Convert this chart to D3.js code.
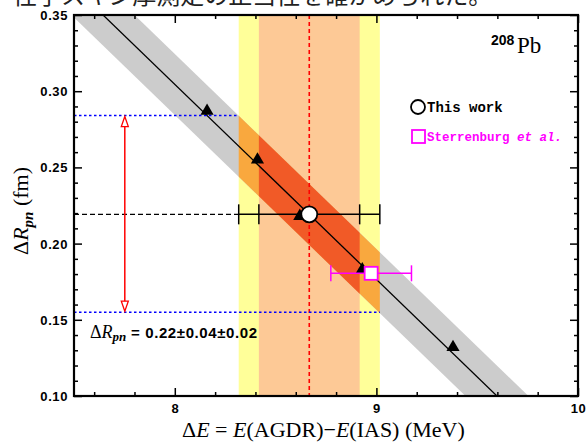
<!DOCTYPE html>
<html><head><meta charset="utf-8">
<script src="https://cdn.jsdelivr.net/npm/d3@7"></script>
<style>
body{margin:0;background:#fff;}
svg{display:block;}
</style></head>
<body>
<svg id="chart" width="587" height="445"></svg>
<script>
// ---------- data ----------
const xDomain = [7.5, 10];
const yDomain = [0.10, 0.35];
const xMajorTicks = [8, 9, 10];
const xMinorTicks = [7.6, 7.8, 8.2, 8.4, 8.6, 8.8, 9.2, 9.4, 9.6, 9.8];
const yMajorTicks = [0.10, 0.15, 0.20, 0.25, 0.30, 0.35];
const yMinorTicks = [0.11, 0.12, 0.13, 0.14, 0.16, 0.17, 0.18, 0.19, 0.21, 0.22, 0.23, 0.24,
                     0.26, 0.27, 0.28, 0.29, 0.31, 0.32, 0.33, 0.34];
const yTickLabels = ["0.10", "0.15", "0.20", "0.25", "0.30", "0.35"];
const xTickLabels = ["8", "9", "10"];

// fit line (ΔR vs ΔE) and its ± band
const fitX = [7.644, 9.598];
const fitY = [0.35, 0.10];
const bandHalfWidth = 0.02;

// calculation points (triangles)
const calcX = [8.16, 8.41, 8.62, 8.93, 9.38];
const calcY = [0.287, 0.255, 0.218, 0.183, 0.132];

// this work
const thisWork = {x: 8.667, y: 0.2192, statLo: 8.417, statHi: 8.917, totLo: 8.317, totHi: 9.017};
// Sterrenburg et al.
const sterr = {x: 8.974, y: 0.1805, lo: 8.774, hi: 9.174};

// ΔR range from band edges
const rangeTop = 0.284, rangeBottom = 0.155;
const arrowX = 7.752;

const titleText = "性子スキン厚測定の正当性を確かめられた。";

// ---------- layout ----------
const svg = d3.select("#chart");
const L = 74, R = 578, T = 15, B = 396;
const x = d3.scaleLinear().domain(xDomain).range([L, R]);
const y = d3.scaleLinear().domain(yDomain).range([B, T]);

// clipped title at top
svg.append("text").attr("x", 13).attr("y", 3.5)
  .attr("font-family", "'Noto Sans CJK JP','Noto Sans CJK SC',sans-serif")
  .attr("font-size", 24).attr("fill", "#222").text(titleText);

const defs = svg.append("defs");
defs.append("clipPath").attr("id", "plotClip").append("rect")
  .attr("x", L).attr("y", T).attr("width", R - L).attr("height", B - T);
defs.append("clipPath").attr("id", "yellowClip").append("rect")
  .attr("x", x(thisWork.totLo)).attr("y", T).attr("width", x(thisWork.totHi) - x(thisWork.totLo)).attr("height", B - T);
defs.append("clipPath").attr("id", "peachClip").append("rect")
  .attr("x", x(thisWork.statLo)).attr("y", T).attr("width", x(thisWork.statHi) - x(thisWork.statLo)).attr("height", B - T);

const g = svg.append("g").attr("clip-path", "url(#plotClip)");

// vertical bands
g.append("rect").attr("x", x(thisWork.totLo)).attr("y", T)
  .attr("width", x(thisWork.totHi) - x(thisWork.totLo)).attr("height", B - T).attr("fill", "#ffff99");
g.append("rect").attr("x", x(thisWork.statLo)).attr("y", T)
  .attr("width", x(thisWork.statHi) - x(thisWork.statLo)).attr("height", B - T).attr("fill", "#fdc996");

// diagonal band
const slope = (fitY[1] - fitY[0]) / (fitX[1] - fitX[0]);
const fitAt = v => fitY[0] + slope * (v - fitX[0]);
const bandXs = [7.3, 10.2];
const bandPts = [
  [bandXs[0], fitAt(bandXs[0]) + bandHalfWidth],
  [bandXs[1], fitAt(bandXs[1]) + bandHalfWidth],
  [bandXs[1], fitAt(bandXs[1]) - bandHalfWidth],
  [bandXs[0], fitAt(bandXs[0]) - bandHalfWidth]
];
const bandPath = d3.line().x(d => x(d[0])).y(d => y(d[1]));
g.append("path").attr("d", bandPath(bandPts) + "Z").attr("fill", "#cccccc");
g.append("g").attr("clip-path", "url(#yellowClip)").append("path")
  .attr("d", bandPath(bandPts) + "Z").attr("fill", "#f9a83e");
g.append("g").attr("clip-path", "url(#peachClip)").append("path")
  .attr("d", bandPath(bandPts) + "Z").attr("fill", "#f15a27");

// red dashed vertical
g.append("line").attr("x1", x(thisWork.x)).attr("x2", x(thisWork.x)).attr("y1", T).attr("y2", B)
  .attr("stroke", "#ff0000").attr("stroke-width", 1.6).attr("stroke-dasharray", "4,3");

// fit line
g.append("path").attr("d", d3.line().x(d => x(d[0])).y(d => y(d[1]))(
  [[bandXs[0], fitAt(bandXs[0])], [bandXs[1], fitAt(bandXs[1])]]))
  .attr("stroke", "#000").attr("stroke-width", 1.3).attr("fill", "none");

// blue dotted lines
g.append("line").attr("x1", L).attr("x2", x(thisWork.totLo)).attr("y1", y(rangeTop)).attr("y2", y(rangeTop))
  .attr("stroke", "#0000ff").attr("stroke-width", 1.5).attr("stroke-dasharray", "2.5,2.5");
g.append("line").attr("x1", L).attr("x2", x(thisWork.totHi)).attr("y1", y(rangeBottom)).attr("y2", y(rangeBottom))
  .attr("stroke", "#0000ff").attr("stroke-width", 1.5).attr("stroke-dasharray", "2.5,2.5");

// black dashed horizontal
g.append("line").attr("x1", L).attr("x2", x(thisWork.totLo)).attr("y1", y(thisWork.y)).attr("y2", y(thisWork.y))
  .attr("stroke", "#000").attr("stroke-width", 1.4).attr("stroke-dasharray", "5,3");

// red double arrow
const ax = x(arrowX), ayTop = y(rangeTop), ayBot = y(rangeBottom);
g.append("line").attr("x1", ax).attr("x2", ax).attr("y1", ayTop + 10).attr("y2", ayBot - 10)
  .attr("stroke", "#ff0000").attr("stroke-width", 1.5);
g.append("path").attr("d", `M${ax},${ayTop + 1}L${ax - 3.5},${ayTop + 11}L${ax + 3.5},${ayTop + 11}Z`)
  .attr("fill", "#fff").attr("stroke", "#ff0000").attr("stroke-width", 1.3);
g.append("path").attr("d", `M${ax},${ayBot - 1}L${ax - 3.5},${ayBot - 11}L${ax + 3.5},${ayBot - 11}Z`)
  .attr("fill", "#fff").attr("stroke", "#ff0000").attr("stroke-width", 1.3);

// triangles
g.selectAll(".tri").data(calcX.map((v, i) => [v, calcY[i]])).enter().append("path")
  .attr("d", d3.symbol().type(d3.symbolTriangle).size(75))
  .attr("transform", d => `translate(${x(d[0])},${y(d[1])})`).attr("fill", "#000");

// this work error bar
const ey = y(thisWork.y);
g.append("line").attr("x1", x(thisWork.totLo)).attr("x2", x(thisWork.totHi)).attr("y1", ey).attr("y2", ey)
  .attr("stroke", "#000").attr("stroke-width", 1.5);
[thisWork.totLo, thisWork.statLo, thisWork.statHi, thisWork.totHi].forEach(v => {
  g.append("line").attr("x1", x(v)).attr("x2", x(v)).attr("y1", ey - 10).attr("y2", ey + 10)
    .attr("stroke", "#000").attr("stroke-width", 1.5);
});
g.append("circle").attr("cx", x(thisWork.x)).attr("cy", ey).attr("r", 8)
  .attr("fill", "#fff").attr("stroke", "#000").attr("stroke-width", 1.8);

// Sterrenburg
const sy = y(sterr.y);
g.append("line").attr("x1", x(sterr.lo)).attr("x2", x(sterr.hi)).attr("y1", sy).attr("y2", sy)
  .attr("stroke", "#ff00ff").attr("stroke-width", 1.5);
[sterr.lo, sterr.hi].forEach(v => {
  g.append("line").attr("x1", x(v)).attr("x2", x(v)).attr("y1", sy - 8).attr("y2", sy + 8)
    .attr("stroke", "#ff00ff").attr("stroke-width", 1.5);
});
g.append("rect").attr("x", x(sterr.x) - 6.5).attr("y", sy - 6.5).attr("width", 13).attr("height", 13)
  .attr("fill", "#fff").attr("stroke", "#ff00ff").attr("stroke-width", 1.8);

// ---------- axes ----------
function addAxis(axisFn, scale, ticks, size, transform, labels) {
  const a = axisFn(scale).tickValues(ticks).tickSizeInner(size).tickSizeOuter(0);
  if (labels) a.tickFormat((d, i) => labels[i]); else a.tickFormat("");
  const ag = svg.append("g").attr("transform", transform).call(a);
  ag.select(".domain").remove();
  ag.selectAll("line").attr("stroke", "#000").attr("stroke-width", 1.5);
  return ag;
}
const bx = addAxis(d3.axisBottom, x, xMajorTicks, -8, `translate(0,${B})`, xTickLabels);
addAxis(d3.axisBottom, x, xMinorTicks, -4, `translate(0,${B})`);
addAxis(d3.axisTop, x, xMajorTicks, -8, `translate(0,${T})`);
addAxis(d3.axisTop, x, xMinorTicks, -4, `translate(0,${T})`);
const ly = addAxis(d3.axisLeft, y, yMajorTicks, -8, `translate(${L},0)`, yTickLabels);
addAxis(d3.axisLeft, y, yMinorTicks, -4, `translate(${L},0)`);
addAxis(d3.axisRight, y, yMajorTicks, -8, `translate(${R},0)`);
addAxis(d3.axisRight, y, yMinorTicks, -4, `translate(${R},0)`);

bx.selectAll("text").attr("font-family", "'Liberation Sans',Arial,sans-serif").attr("font-weight", "bold")
  .attr("font-size", 13).attr("letter-spacing", 0.6).attr("fill", "#000").attr("y", 8).attr("dy", "0.71em");
ly.selectAll("text").attr("font-family", "'Liberation Sans',Arial,sans-serif").attr("font-weight", "bold")
  .attr("font-size", 13).attr("letter-spacing", 0.6).attr("fill", "#000").attr("x", -6).attr("dy", "0.35em");

// frame
svg.append("rect").attr("x", L).attr("y", T).attr("width", R - L).attr("height", B - T)
  .attr("fill", "none").attr("stroke", "#000").attr("stroke-width", 2.2);

// ---------- labels ----------
const serif = "'Liberation Serif','DejaVu Serif',serif";
const xl = svg.append("text").attr("x", 182).attr("y", 437).attr("font-family", serif).attr("font-size", 22).attr("fill", "#000");
xl.append("tspan").text("Δ");
xl.append("tspan").attr("font-style", "italic").text("E");
xl.append("tspan").text(" = ");
xl.append("tspan").attr("font-style", "italic").text("E");
xl.append("tspan").text("(AGDR)−");
xl.append("tspan").attr("font-style", "italic").text("E");
xl.append("tspan").text("(IAS)  (MeV)");

const yl = svg.append("text").attr("transform", "translate(28,211) rotate(-90)").attr("text-anchor", "middle")
  .attr("font-family", serif).attr("font-size", 22).attr("fill", "#000");
yl.append("tspan").text("Δ");
yl.append("tspan").attr("font-style", "italic").text("R");
yl.append("tspan").attr("font-style", "italic").attr("font-weight", "bold").attr("font-size", 15).attr("dy", 5).text("pn");
yl.append("tspan").attr("dy", -5).text("   (fm)");

// annotation
const an = svg.append("text").attr("x", 90).attr("y", 338).attr("fill", "#000");
an.append("tspan").attr("font-family", serif).attr("font-size", 18).text("Δ");
an.append("tspan").attr("font-family", serif).attr("font-style", "italic").attr("font-size", 18).text("R");
an.append("tspan").attr("font-family", serif).attr("font-style", "italic").attr("font-weight", "bold").attr("font-size", 13).attr("dy", 3).text("pn");
an.append("tspan").attr("font-family", "'Liberation Sans',Arial,sans-serif").attr("font-weight", "bold").attr("font-size", 15)
  .attr("letter-spacing", 0.6).attr("dy", -3).text(" = 0.22±0.04±0.02");

// nucleus label
svg.append("text").attr("x", 491).attr("y", 45).attr("font-family", "'Liberation Sans',Arial,sans-serif")
  .attr("font-weight", "bold").attr("font-size", 14).attr("fill", "#000").text("208");
svg.append("text").attr("x", 517).attr("y", 53).attr("font-family", serif).attr("font-size", 23).attr("fill", "#000").text("Pb");

// legend
const mono = "'Liberation Mono','DejaVu Sans Mono',monospace";
svg.append("circle").attr("cx", 418).attr("cy", 107).attr("r", 7).attr("fill", "#fff").attr("stroke", "#000").attr("stroke-width", 1.8);
svg.append("text").attr("x", 427).attr("y", 112).attr("font-family", mono).attr("font-weight", "bold").attr("font-size", 14)
  .attr("fill", "#000").text("This work");
svg.append("rect").attr("x", 412).attr("y", 130).attr("width", 13).attr("height", 13).attr("fill", "#fff")
  .attr("stroke", "#ff00ff").attr("stroke-width", 1.8);
const lt = svg.append("text").attr("x", 427).attr("y", 141).attr("font-family", mono).attr("font-weight", "bold")
  .attr("font-size", 12.5).attr("fill", "#ff00ff");
lt.append("tspan").text("Sterrenburg ");
lt.append("tspan").attr("font-style", "italic").text("et al.");
</script>
</body></html>
